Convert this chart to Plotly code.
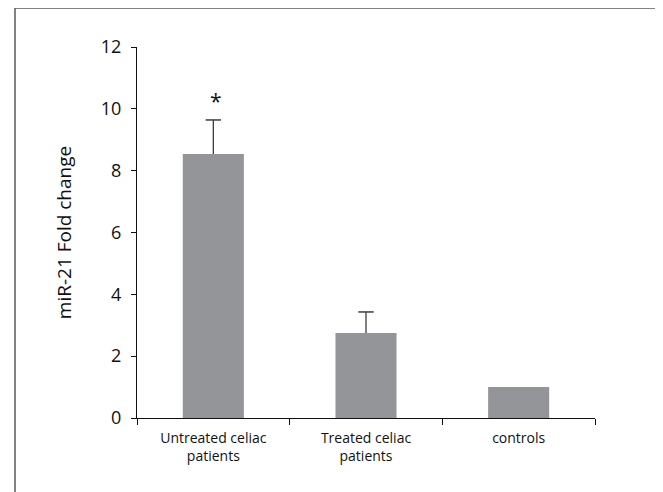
import plotly.graph_objects as go

categories = ["Untreated celiac<br>patients", "Treated celiac<br>patients", "controls"]
fold_change = [8.54, 2.75, 1.0]
error_up = [1.1, 0.68, 0]
significance = ["*", "", ""]
y_ticks = [0, 2, 4, 6, 8, 10, 12]

FONT = "Open Sans, Noto Sans, Arial, sans-serif"
BAR = "#939598"
ERR = "#3c3c3c"

fig = go.Figure()
fig.add_trace(go.Bar(
    x=categories,
    y=fold_change,
    width=0.4,
    marker=dict(color=BAR, line=dict(width=0)),
    error_y=dict(type="data", array=error_up, symmetric=False, arrayminus=[0, 0, 0],
                 color=ERR, thickness=1.3, width=0, visible=True),
    showlegend=False,
))

# cross-bar only at the upper end of each error bar
cap_x = [c for c, e in zip(categories, error_up) if e > 0]
cap_y = [v + e for v, e in zip(fold_change, error_up) if e > 0]
fig.add_trace(go.Scatter(
    x=cap_x, y=cap_y, mode="markers",
    marker=dict(symbol="line-ew", size=11, line=dict(color=ERR, width=1.5)),
    showlegend=False, hoverinfo="skip",
))

for cat, v, e, s in zip(categories, fold_change, error_up, significance):
    if s:
        fig.add_annotation(x=cat, y=v + e, text=s, showarrow=False, yshift=19, xshift=3,
                           font=dict(family=FONT, size=21, color="#111"))

fig.add_shape(type="rect", xref="paper", yref="paper",
              x0=-0.2664, x1=1.1463, y0=-0.25, y1=1.105,
              line=dict(color="#5a5a5a", width=1.5), fillcolor="rgba(0,0,0,0)", layer="below")

fig.update_layout(
    width=655, height=484,
    margin=dict(l=129, r=68, t=39, b=74),
    paper_bgcolor="white", plot_bgcolor="white",
    font=dict(family=FONT, color="#111"),
    xaxis=dict(
        range=[-0.5, 2.5], showline=True, linecolor="#111", linewidth=1.2,
        ticks="outside", tickson="boundaries", ticklen=6, tickcolor="#111", tickwidth=1.2,
        tickfont=dict(family=FONT, size=14, color="#111"), ticklabelstandoff=7,
        showgrid=False, zeroline=False, fixedrange=True,
    ),
    yaxis=dict(
        range=[0, 12], tickvals=y_ticks, showline=True, linecolor="#111", linewidth=1.2,
        ticks="outside", ticklen=5, tickcolor="#111", tickwidth=1.2,
        tickfont=dict(family=FONT, size=18, color="#111"), ticklabelstandoff=6,
        showgrid=False, zeroline=False,
        title=dict(text="miR-21 Fold change", font=dict(family=FONT, size=19, color="#111"), standoff=24),
    ),
)

fig.write_html("out.html")
